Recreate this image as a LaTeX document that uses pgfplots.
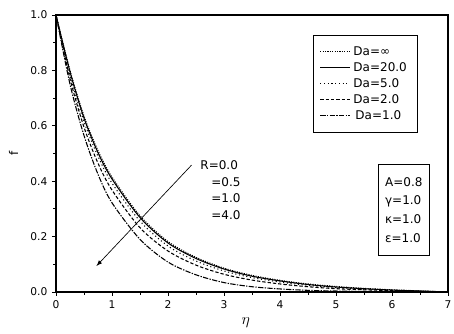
\documentclass[border=0pt]{standalone}
\usepackage{fontspec}
\setmainfont{DejaVu Sans}
\usepackage{pgfplots}
\usepackage{pgfplotstable}
\pgfplotsset{compat=1.18}

\pgfplotstableread{
eta dinf d20 d5 d2 d1
0 1 1 1 1 1
0.25 0.800 0.795 0.785 0.770 0.750
0.5 0.635 0.628 0.615 0.595 0.565
0.75 0.510 0.503 0.490 0.465 0.425
1 0.415 0.408 0.393 0.368 0.322
1.5 0.275 0.269 0.256 0.232 0.190
2 0.182 0.177 0.166 0.148 0.108
2.5 0.125 0.121 0.112 0.097 0.062
3 0.086 0.083 0.076 0.064 0.034
3.5 0.060 0.057 0.052 0.043 0.019
4 0.042 0.040 0.036 0.029 0.011
4.5 0.029 0.027 0.024 0.019 0.006
5 0.020 0.018 0.016 0.012 0.0035
5.5 0.013 0.012 0.010 0.008 0.002
6 0.008 0.007 0.006 0.005 0.001
6.5 0.004 0.0035 0.003 0.0025 0.0005
7 0 0 0 0 0
}\data

\begin{document}
\begin{tikzpicture}
\begin{axis}[
  name=ax, scale only axis, width=294pt, height=207.75pt,
  xmin=0, xmax=7, ymin=0, ymax=1,
  xtick={0,1,2,3,4,5,6,7}, ytick={0,0.2,0.4,0.6,0.8,1},
  minor x tick num=1, minor y tick num=1,
  tick align=outside, xtick pos=left, ytick pos=left,
  major tick length=3pt, minor tick length=2pt,
  every tick/.style={black, line width=0.6pt},
  axis line style={line width=0.8pt},
  ticklabel style={font=\fontsize{8}{9}\selectfont},
  yticklabel style={/pgf/number format/.cd, fixed, fixed zerofill, precision=1},
  /pgf/number format/assume math mode=true,
  xlabel={$\eta$}, ylabel={f},
  xlabel style={at={(axis description cs:0.484,-0.112)}, anchor=center, font=\fontsize{13}{14}\selectfont},
  ylabel style={at={(axis description cs:-0.108,0.5)}, anchor=center, font=\fontsize{9}{10}\selectfont},
  legend style={at={(axis cs:4.585,0.928)}, anchor=north west, draw=black, line width=0.5pt,
    font=\fontsize{9}{10}\selectfont, inner xsep=5pt, inner ysep=7pt, row sep=1pt,
    nodes={inner ysep=1.5pt, inner xsep=2.5pt, text height=6.5pt, text depth=1.5pt}},
  legend cell align=left,
  legend image code/.code={\draw[#1] (0pt,0pt) -- (22pt,0pt);},
]
\addplot[black, line width=0.8pt, densely dotted, smooth] table[x=eta, y=dinf] {\data};
\addlegendentry{Da=∞}
\addplot[black, line width=0.8pt, smooth] table[x=eta, y=d20] {\data};
\addlegendentry{Da=20.0}
\addplot[black, line width=0.8pt, dotted, smooth] table[x=eta, y=d5] {\data};
\addlegendentry{Da=5.0}
\addplot[black, line width=0.8pt, dash pattern=on 2.5pt off 1.5pt, smooth] table[x=eta, y=d2] {\data};
\addlegendentry{Da=2.0}
\addplot[black, line width=0.8pt, dash pattern=on 4pt off 1pt on 1pt off 1pt, smooth] table[x=eta, y=d1] {\data};
\addlegendentry{\,Da=1.0}

\draw[-latex, line width=0.5pt] (axis cs:2.42,0.458) -- (axis cs:0.723,0.094);
\node[anchor=west, inner sep=0, font=\fontsize{9}{10}\selectfont] at (axis cs:2.575,0.4585) {R=0.0};
\node[anchor=west, inner sep=0, font=\fontsize{9}{10}\selectfont] at (axis cs:2.77,0.397) {=0.5};
\node[anchor=west, inner sep=0, font=\fontsize{9}{10}\selectfont] at (axis cs:2.77,0.339) {=1.0};
\node[anchor=west, inner sep=0, font=\fontsize{9}{10}\selectfont] at (axis cs:2.77,0.278) {=4.0};

\node[draw, line width=0.5pt, align=left, anchor=north west, minimum width=38.25pt, minimum height=68.25pt,
  inner xsep=3pt, font=\fontsize{9}{13.9}\selectfont] at (axis cs:5.749,0.462)
  {A=0.8\\γ=1.0\\κ=1.0\\ε=1.0};
\end{axis}
\pgfresetboundingbox
\useasboundingbox ([xshift=-42pt,yshift=-31.5pt]ax.south west) rectangle ([xshift=4.5pt,yshift=11.25pt]ax.north east);
\end{tikzpicture}
\end{document}
